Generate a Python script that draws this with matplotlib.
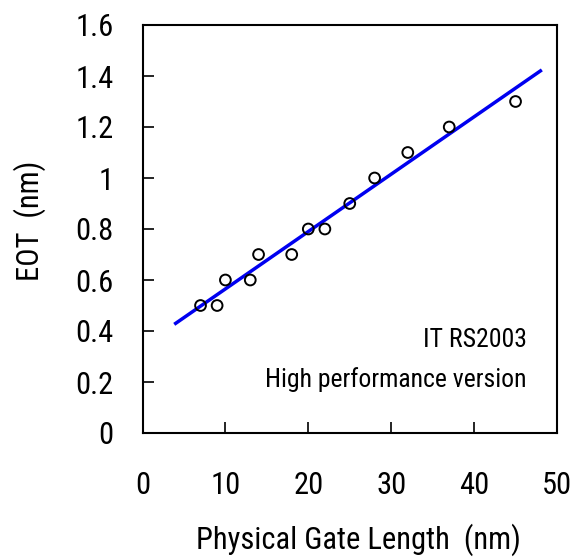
import matplotlib
matplotlib.use("Agg")
import matplotlib.pyplot as plt
from matplotlib import font_manager

names = {f.name for f in font_manager.fontManager.ttflist}
cands = ['Liberation Sans Narrow', 'Arial Narrow', 'Roboto Condensed', 'Archivo Narrow',
         'Open Sans Condensed', 'Barlow Semi Condensed', 'Liberation Sans']
fam = next(c for c in cands if c in names)
plt.rcParams['font.family'] = [fam, 'DejaVu Sans']

gate_length = [7, 9, 10, 13, 14, 18, 20, 22, 25, 28, 32, 37, 45]
eot = [0.5, 0.5, 0.6, 0.6, 0.7, 0.7, 0.8, 0.8, 0.9, 1.0, 1.1, 1.2, 1.3]
fit_x = [4, 48]
fit_y = [0.43, 1.42]
x_ticks = [0, 10, 20, 30, 40, 50]
y_ticks = [0, 0.2, 0.4, 0.6, 0.8, 1.0, 1.2, 1.4, 1.6]
y_ticklabels = ['0', '0.2', '0.4', '0.6', '0.8', '1', '1.2', '1.4', '1.6']

fig = plt.figure(figsize=(5.76, 5.59), dpi=100)
ax = fig.add_axes([142.5/576, 1-433/559, (557-142.5)/576, (433-25)/559])

ax.plot(fit_x, fit_y, color='#0000f0', lw=2.5, zorder=2)
ax.scatter(gate_length, eot, s=60, facecolors='none', edgecolors='black', linewidths=1.4, zorder=3)

ax.set_xlim(0, 50)
ax.set_ylim(0, 1.6)
ax.set_xticks(x_ticks)
ax.set_xticklabels([str(v) for v in x_ticks])
ax.set_yticks(y_ticks)
ax.set_yticklabels(y_ticklabels)
ax.tick_params(direction='in', length=8, width=1.2, labelsize=22)
ax.tick_params(axis='y', pad=21)
ax.tick_params(axis='x', pad=27)
for s in ax.spines.values():
    s.set_linewidth(1.5)

ax.set_xlabel('Physical Gate Length  (nm)', fontsize=22, labelpad=17, x=0.52)
ax.set_ylabel('EOT  (nm)', fontsize=22, labelpad=21, y=0.52)

ax.text(0.927, 0.228, 'IT RS2003', transform=ax.transAxes, ha='right', va='center', fontsize=18.5)
ax.text(0.927, 0.13, 'High performance version', transform=ax.transAxes, ha='right', va='center', fontsize=18.5)

fig.savefig('out.png', dpi=100)
